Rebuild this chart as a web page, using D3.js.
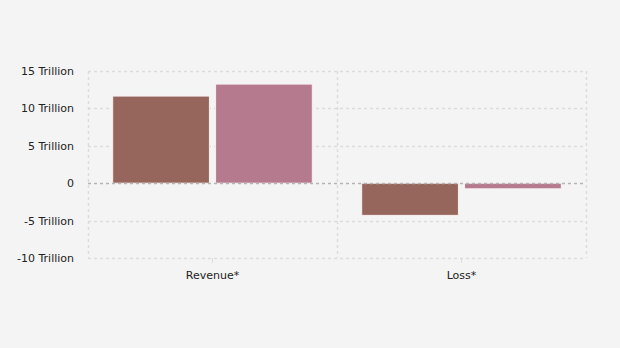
<!DOCTYPE html>
<html>
<head>
<meta charset="utf-8">
<script src="https://cdn.jsdelivr.net/npm/d3@7"></script>
<style>
  html, body { margin: 0; padding: 0; background: #f4f4f4; }
  svg { display: block; font-family: "DejaVu Sans", Verdana, sans-serif; }
</style>
</head>
<body>
<svg id="chart" width="620" height="348"></svg>
<script>
// Categories and the two series (values in trillions)
const categories = ["Revenue*", "Loss*"];
const seriesNames = ["Series A", "Series B"];
const seriesA = [11.65, -4.3];
const seriesB = [13.25, -0.75];
const seriesColors = ["#96665c", "#b67a8e"];
const yTicks = [-10, -5, 0, 5, 10, 15];
const yTickLabels = ["-10 Trillion", "-5 Trillion", "0", "5 Trillion", "10 Trillion", "15 Trillion"];

const svg = d3.select("#chart");
const margin = { left: 88, right: 34, top: 71, bottom: 90 };
const W = 620, H = 348;

const x0 = d3.scaleBand().domain(categories).range([margin.left, W - margin.right]);
const x1 = d3.scaleBand().domain(seriesNames).range([0, x0.bandwidth()]).paddingInner(0.06).paddingOuter(0.24);
const y = d3.scaleLinear().domain([-10, 15]).range([H - margin.bottom, margin.top]);

const g = svg.append("g");

// Horizontal grid
g.selectAll("line.hgrid").data(yTicks.filter(t => t !== 0)).join("line")
  .attr("x1", margin.left).attr("x2", W - margin.right)
  .attr("y1", d => Math.round(y(d)) + 0.5).attr("y2", d => Math.round(y(d)) + 0.5)
  .attr("stroke", "#dcdcdc").attr("stroke-width", 1.5).attr("stroke-dasharray", "3,3");

// Vertical grid at band edges
const edges = [margin.left, x0(categories[1]), W - margin.right];
g.selectAll("line.vgrid").data(edges).join("line")
  .attr("x1", d => Math.round(d) + 0.5).attr("x2", d => Math.round(d) + 0.5)
  .attr("y1", y(15)).attr("y2", y(-10))
  .attr("stroke", "#dcdcdc").attr("stroke-width", 1.5).attr("stroke-dasharray", "3,3");

// Bars
const data = categories.map((c, i) => ({ c, vals: [seriesA[i], seriesB[i]] }));
const groups = g.selectAll("g.cat").data(data).join("g")
  .attr("transform", d => `translate(${x0(d.c)},0)`);
groups.selectAll("rect").data(d => d.vals.map((v, j) => ({ v, s: seriesNames[j], j }))).join("rect")
  .attr("x", d => x1(d.s))
  .attr("width", x1.bandwidth())
  .attr("y", d => y(Math.max(0, d.v)))
  .attr("height", d => Math.abs(y(d.v) - y(0)))
  .attr("fill", d => seriesColors[d.j])
  .attr("stroke", "#f8f0f0").attr("stroke-width", 1);

// Zero line
g.append("line")
  .attr("x1", margin.left).attr("x2", W - margin.right)
  .attr("y1", Math.round(y(0)) + 0.5).attr("y2", Math.round(y(0)) + 0.5)
  .attr("stroke", "#b4b4b4").attr("stroke-width", 1.5).attr("stroke-dasharray", "3,3");

// Y axis labels
const yAxis = d3.axisLeft(y).tickValues(yTicks)
  .tickFormat((d, i) => yTickLabels[i]).tickSize(0).tickPadding(14);
const ya = svg.append("g").attr("transform", `translate(${margin.left},0)`).call(yAxis);
ya.select(".domain").remove();
ya.selectAll("text").attr("font-size", 11).attr("fill", "#222").attr("font-family", "DejaVu Sans, Verdana, sans-serif");

// X axis labels with small ticks
const xAxis = d3.axisBottom(x0).tickSize(5).tickPadding(8);
const xa = svg.append("g").attr("transform", `translate(0,${y(-10)})`).call(xAxis);
xa.select(".domain").remove();
xa.selectAll("line").attr("stroke", "#dcdcdc");
xa.selectAll("text").attr("font-size", 11).attr("fill", "#222").attr("font-family", "DejaVu Sans, Verdana, sans-serif");
</script>
</body>
</html>
